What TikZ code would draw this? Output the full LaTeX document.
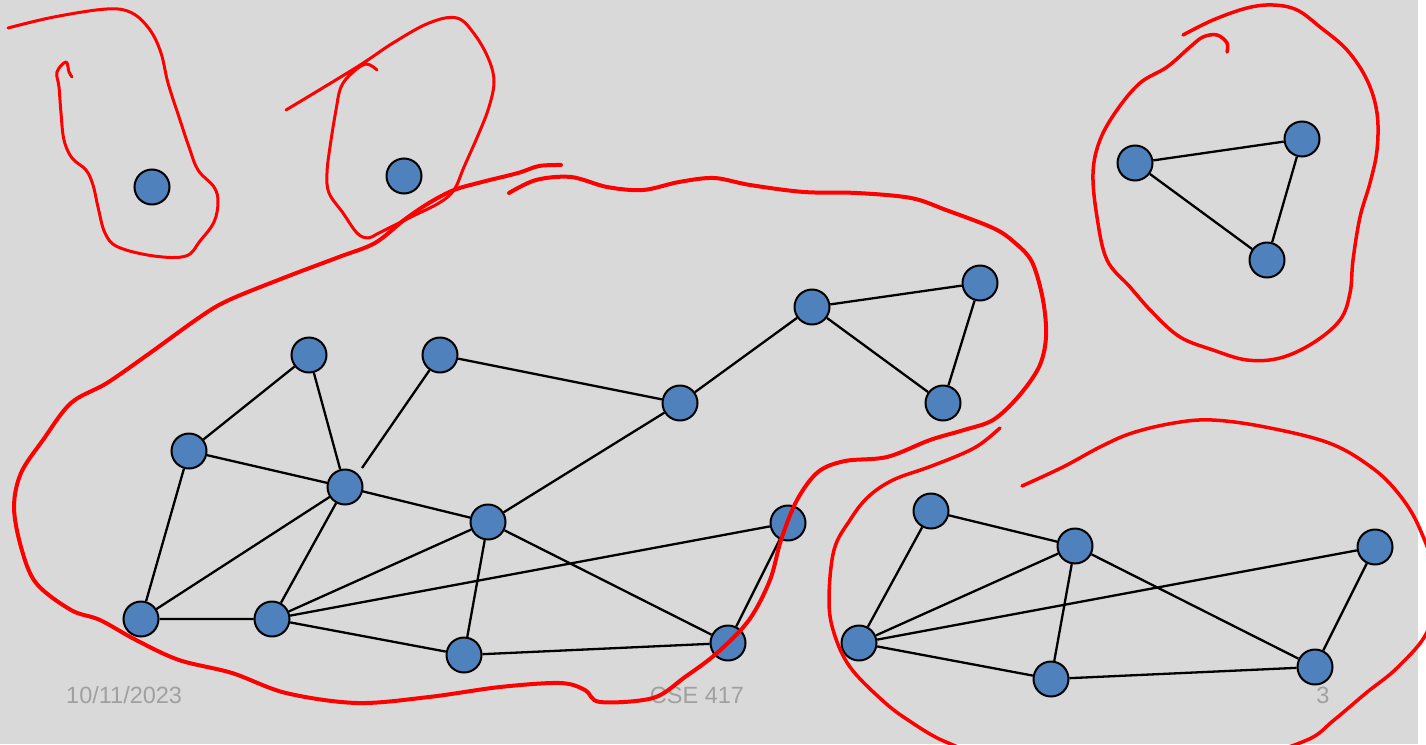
\documentclass[tikz,border=0pt]{standalone}
\usepackage{fontspec}
\setmainfont{Liberation Sans}
\definecolor{bg}{RGB}{217,217,217}
\definecolor{nodeblue}{RGB}{79,129,189}
\definecolor{ink}{RGB}{255,0,0}
\definecolor{foot}{RGB}{160,160,160}
\begin{document}
\begin{tikzpicture}[x=1pt,y=-1pt,
  vtx/.style={circle,draw=black,fill=nodeblue,line width=2pt,minimum size=35pt,inner sep=0pt},
  edge/.style={draw=black,line width=2.3pt},
  pen/.style={draw=ink,line width=3pt,line cap=round,line join=round},
  thickpen/.style={draw=ink,line width=4pt,line cap=round,line join=round},
  footer/.style={text=foot,font=\fontsize{23.5}{26}\selectfont,inner sep=0pt}]
\useasboundingbox (0,0) rectangle (1426,744);
\fill[white] (0,0) rectangle (1426,744);
\fill[bg] (0,0) rectangle (1418,744);
\clip (0,0) rectangle (1426,744);

% footer
\node[footer,anchor=base west] (date) at (66,703) {10/11/2023};
\node[footer,anchor=base] (course) at (697,703) {CSE 417};
\node[footer,anchor=base] (page) at (1323,703) {3};

% isolated
\node[vtx] (a1) at (152,187) {};
\node[vtx] (a2) at (404,176) {};

% triangle
\node[vtx] (t1) at (1135,163) {};
\node[vtx] (t2) at (1302,139) {};
\node[vtx] (t3) at (1267,260) {};

% main component
\node[vtx] (n1) at (309,355) {};
\node[vtx] (n2) at (440,355) {};
\node[vtx] (n3) at (189,451) {};
\node[vtx] (n4) at (345,487) {};
\node[vtx] (n5) at (488,522) {};
\node[vtx] (n6) at (141,619) {};
\node[vtx] (n7) at (272,619) {};
\node[vtx] (n8) at (464,655) {};
\node[vtx] (n9) at (680,403) {};
\node[vtx] (n10) at (812,307) {};
\node[vtx] (n11) at (980,283) {};
\node[vtx] (n12) at (943,403) {};
\node[vtx] (n13) at (788,523) {};
\node[vtx] (n14) at (728,643) {};
\coordinate (n2end) at (362,468);

% bottom right component
\node[vtx] (m1) at (931,511) {};
\node[vtx] (m2) at (1075,546) {};
\node[vtx] (m3) at (1375,547) {};
\node[vtx] (m4) at (859,643) {};
\node[vtx] (m5) at (1051,679) {};
\node[vtx] (m6) at (1315,667) {};

% edges
\path[edge] (t1) -- (t2) (t1) -- (t3) (t2) -- (t3);
\path[edge] (n1) -- (n3) (n1) -- (n4) (n2) -- (n2end) (n2) -- (n9)
  (n3) -- (n4) (n3) -- (n6) (n4) -- (n6) (n4) -- (n7) (n4) -- (n5)
  (n5) -- (n9) (n5) -- (n7) (n5) -- (n8) (n5) -- (n14)
  (n6) -- (n7) (n7) -- (n13) (n7) -- (n8) (n8) -- (n14)
  (n9) -- (n10) (n10) -- (n11) (n10) -- (n12) (n11) -- (n12) (n13) -- (n14);
\path[edge] (m1) -- (m2) (m1) -- (m4) (m2) -- (m4) (m2) -- (m5) (m2) -- (m6)
  (m3) -- (m4) (m3) -- (m6) (m4) -- (m5) (m5) -- (m6);

% red loops
\draw[pen] plot[smooth,tension=0.6] coordinates {(8,28) (54,17) (107,9) (132,13) (150,30) (161,53) (168,83) (179,117) (189,147) (198,170) (214,187) (218,202) (214,222) (200,241) (186,256) (154,256) (118,247) (105,233) (98,207) (93,185) (86,170) (72,158) (64,140) (61,113) (59,87) (57,72) (66,62) (69,72) (72,77)};

\draw[pen] plot[smooth,tension=0.6] coordinates {(286,110) (357,67) (393,43) (429,23) (457,18) (475,35) (489,60) (494,82) (489,107) (479,133) (464,167) (454,190) (439,203) (411,217) (379,233) (368,238) (357,233) (343,213) (329,193) (327,173) (330,147) (336,110) (341,87) (352,73) (366,64) (377,70)};

\draw[thickpen] plot[smooth,tension=0.55] coordinates {(561,165) (539,166) (518,173) (482,182) (454,190) (429,203) (404,220) (375,243) (339,257) (286,277) (229,300) (200,317) (150,353) (107,383) (71,403) (43,440) (21,473) (14,507) (21,547) (36,583) (71,610) (100,620) (136,640) (179,660) (232,673) (286,693) (357,703) (429,697) (500,687) (560,683) (585,690) (600,702) (653,698) (685,677) (717,653) (749,620) (770,580) (781,540) (797,500) (818,472) (845,461) (887,457) (930,440) (964,430) (993,420) (1018,397) (1039,367) (1046,337) (1043,300) (1032,262) (1014,242) (993,228) (946,210) (911,198) (857,193) (804,192) (750,185) (714,178) (679,182) (643,190) (607,187) (571,177) (536,180) (509,193)};

\draw[pen,line width=3.5pt] plot[smooth,tension=0.6] coordinates {(1000,428) (982,443) (964,453) (929,467) (893,480) (868,497) (850,520) (834,550) (829,600) (834,633) (850,667) (882,700) (908,720) (946,742) (1000,758) (1120,765) (1250,755) (1307,740) (1334,720) (1366,693) (1398,667) (1428,630) (1436,580) (1419,527) (1398,493) (1371,467) (1329,443) (1265,427) (1212,420) (1174,423) (1132,433) (1100,447) (1063,467) (1022,486)};

\draw[pen,line width=3.5pt] plot[smooth,tension=0.6] coordinates {(1183,35) (1213,20) (1247,8) (1273,5) (1297,10) (1320,27) (1347,50) (1367,80) (1377,113) (1377,150) (1370,183) (1360,217) (1353,260) (1350,293) (1340,320) (1313,343) (1280,358) (1247,360) (1213,350) (1180,337) (1153,313) (1130,287) (1107,260) (1097,217) (1093,173) (1100,140) (1117,110) (1140,83) (1167,67) (1190,47) (1203,37) (1217,35) (1227,43) (1227,52)};
\end{tikzpicture}
\end{document}
